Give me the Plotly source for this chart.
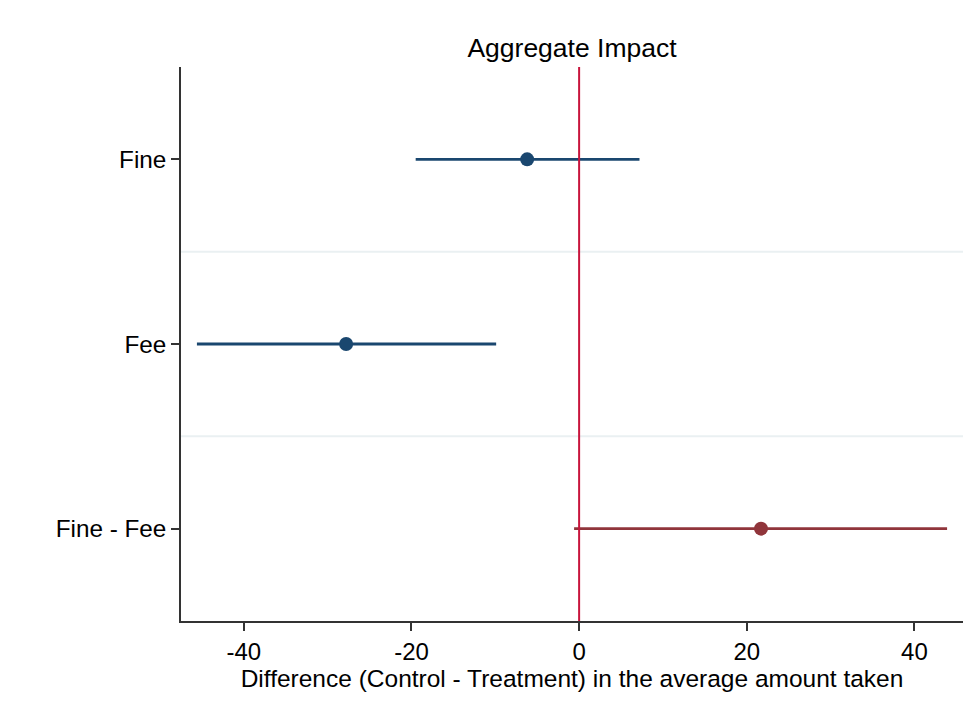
import plotly.graph_objects as go

categories = ["Fine", "Fee", "Fine - Fee"]
estimates = [-6.2, -27.8, 21.7]
ci_low = [-19.5, -45.6, -0.6]
ci_high = [7.2, -9.9, 43.9]
colors = ["#1a476f", "#1a476f", "#90353b"]
x_ticks = [-40, -20, 0, 20, 40]
cat_order = ["Fine - Fee", "Fee", "Fine"]

FONT = "Liberation Sans, Arial, sans-serif"

fig = go.Figure()
for c, e, lo, hi, col in zip(categories, estimates, ci_low, ci_high, colors):
    fig.add_trace(go.Scatter(
        x=[lo, hi], y=[c, c], mode="lines",
        line=dict(color=col, width=2.8), showlegend=False, hoverinfo="skip"))
    fig.add_trace(go.Scatter(
        x=[e], y=[c], mode="markers",
        marker=dict(color=col, size=14, line=dict(width=0)), showlegend=False))

# light separators between categories
for yv in [0.5, 1.5]:
    fig.add_shape(type="line", xref="paper", yref="y", x0=0, x1=1, y0=yv, y1=yv,
                  line=dict(color="#eaf0f2", width=2), layer="below")
# reference line at zero
fig.add_shape(type="line", xref="x", yref="paper", x0=0, x1=0, y0=0, y1=1,
              line=dict(color="#c8143c", width=2), layer="above")

W, H = 958, 697
fig.update_layout(
    width=W, height=H,
    margin=dict(l=173, r=3, t=59, b=84),
    paper_bgcolor="white", plot_bgcolor="white",
    font=dict(family=FONT, size=24, color="#000000"),
    title=dict(text="Aggregate Impact", x=0.5, xref="paper", xanchor="center",
               y=1 - 40 / H, yref="container", yanchor="middle",
               font=dict(family=FONT, size=26.5, color="#000000")),
    xaxis=dict(range=[-47.5, 45.8], tickvals=x_ticks, ticktext=[str(v) for v in x_ticks],
               showgrid=False, zeroline=False, showline=True, linecolor="#333333", linewidth=1.5,
               ticks="outside", ticklen=8, tickwidth=1.5, tickcolor="#333333",
               tickfont=dict(size=24),
               title=dict(text="Difference (Control - Treatment) in the average amount taken",
                          font=dict(size=24.5), standoff=2)),
    yaxis=dict(type="category", categoryorder="array", categoryarray=cat_order,
               range=[-0.5, 2.5], showgrid=False, zeroline=False, showline=True,
               linecolor="#333333", linewidth=1.5,
               ticks="outside", ticklen=8, tickwidth=1.5, tickcolor="#333333",
               tickfont=dict(size=24.3)),
)

fig.write_html("out.html")
